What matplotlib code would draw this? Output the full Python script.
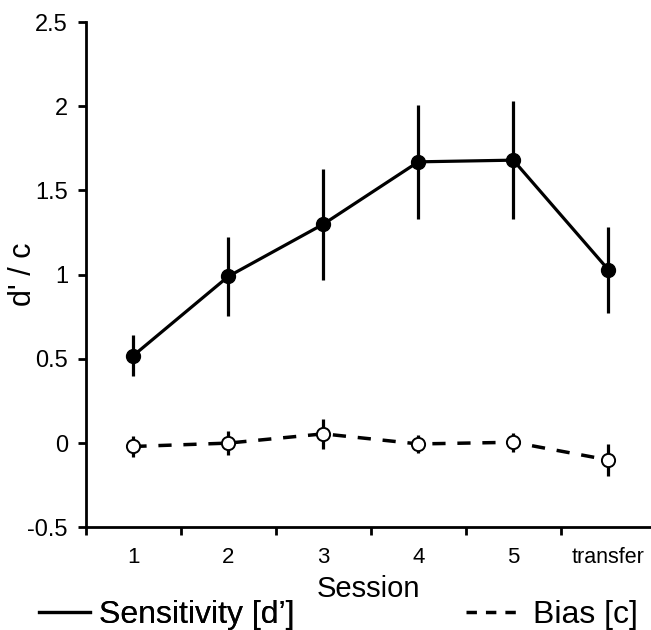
import matplotlib
matplotlib.use("Agg")
import matplotlib.pyplot as plt
from matplotlib.lines import Line2D

plt.rcParams['font.family'] = ['Liberation Sans', 'DejaVu Sans']

sessions = ['1', '2', '3', '4', '5', 'transfer']
dprime = [0.52, 0.99, 1.30, 1.67, 1.68, 1.03]
dprime_err = [0.12, 0.235, 0.33, 0.34, 0.35, 0.255]
bias = [-0.02, 0.00, 0.055, -0.005, 0.005, -0.10]
bias_err = [0.065, 0.07, 0.09, 0.055, 0.055, 0.095]
yticks = [-0.5, 0, 0.5, 1, 1.5, 2, 2.5]
ytick_labels = ['-0.5', '0', '0.5', '1', '1.5', '2', '2.5']

x = list(range(1, len(sessions) + 1))

fig = plt.figure(figsize=(6.51, 6.30), dpi=100)
ax = fig.add_axes([0.132, 0.163, 0.868, 0.802])

ax.errorbar(x, dprime, yerr=dprime_err, color='black', lw=2.3, elinewidth=2.3,
            capsize=0, marker='o', ms=10, mfc='black', mec='black', zorder=3)
ax.errorbar(x, bias, yerr=bias_err, color='black', lw=2.5, elinewidth=2.3,
            capsize=0, marker='o', ms=9.5, mfc='white', mec='black', mew=1.4,
            linestyle=(0, (3.8, 3.4)), zorder=3)

ax.set_xlim(0.5, 6.45)
ax.set_ylim(-0.5, 2.5)
ax.set_yticks(yticks)
ax.set_yticklabels(ytick_labels, fontsize=17)
ax.set_xticks([i + 0.5 for i in range(0, len(sessions))])
ax.set_xticklabels([])
ax.set_xticks(x, minor=True)
ax.set_xticklabels(sessions, minor=True, fontsize=16)
for lab in ax.get_xticklabels(minor=True):
    if lab.get_text() == 'transfer':
        lab.set_fontsize(15.5)
ax.tick_params(axis='x', which='minor', length=0, pad=14)
ax.tick_params(axis='both', which='major', direction='out', length=6, width=2)
ax.tick_params(axis='y', pad=7)

for s in ['top', 'right']:
    ax.spines[s].set_visible(False)
for s in ['left', 'bottom']:
    ax.spines[s].set_linewidth(2)

ax.set_ylabel("d' / c", fontsize=22)
ax.yaxis.set_label_coords(-0.085, 0.5)
ax.set_xlabel("Session", fontsize=21, labelpad=5)

h1 = Line2D([], [], color='black', lw=2.3)
h2 = Line2D([], [], color='black', lw=2.5, linestyle=(0, (3.0, 2.6)))
leg1 = fig.legend([h1], ["Sensitivity [d\u2019]"], loc='lower left',
                  bbox_to_anchor=(0.03, -0.03), frameon=False, fontsize=23,
                  handlelength=1.6, handletextpad=0.3, borderaxespad=0.2)
leg2 = fig.legend([h2], ["Bias [c]"], loc='lower right',
                  bbox_to_anchor=(1.01, -0.03), frameon=False, fontsize=23,
                  handlelength=1.6, handletextpad=0.5, borderaxespad=0.2)
fig.add_artist(leg1)

fig.savefig('out.png', dpi=100)
